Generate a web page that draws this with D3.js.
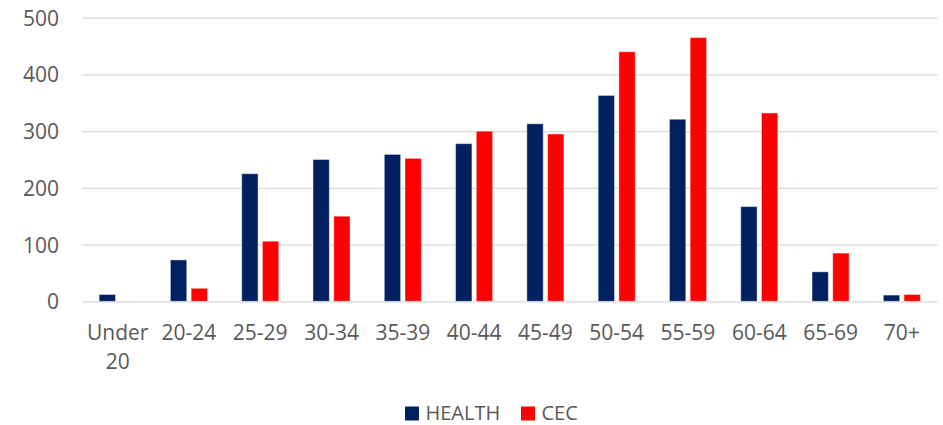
<!DOCTYPE html>
<html>
<head>
<meta charset="utf-8">
<script src="https://cdn.jsdelivr.net/npm/d3@7"></script>
<style>
  html, body { margin: 0; padding: 0; background: #ffffff; }
  svg { display: block; }
  text { font-family: "Open Sans", "Liberation Sans", sans-serif; fill: #595959; }
</style>
</head>
<body>
<svg id="chart" width="943" height="425"></svg>
<script>
// Age bands along the x axis
const categories = ["Under 20", "20-24", "25-29", "30-34", "35-39", "40-44", "45-49",
                    "50-54", "55-59", "60-64", "65-69", "70+"];
// Headcount per age band for each group
const healthValues = [12, 73, 225, 250, 259, 278, 313, 363, 321, 167, 52, 11];
const cecValues    = [0, 23, 106, 150, 252, 300, 295, 440, 465, 332, 85, 12];
const seriesNames  = ["HEALTH", "CEC"];
const seriesColors = ["#002060", "#FF0000"];
const yTicks = [0, 100, 200, 300, 400, 500];

const svg = d3.select("#chart");
const margin = { left: 82, right: 5.5, top: 17.7, bottom: 123.7 };
const W = 943, H = 425;

const x = d3.scaleBand()
  .domain(categories)
  .range([margin.left, W - margin.right])
  .paddingInner(0.48)
  .paddingOuter(0.24);

const xInner = d3.scaleBand()
  .domain(seriesNames)
  .range([0, x.bandwidth()])
  .paddingInner(0.21);

const y = d3.scaleLinear()
  .domain([0, 500])
  .range([H - margin.bottom, margin.top]);

// Horizontal gridlines
const yAxis = d3.axisLeft(y)
  .tickValues(yTicks)
  .tickSize(-(W - margin.right - margin.left))
  .tickPadding(23)
  .tickFormat(d3.format("d"));

const gy = svg.append("g")
  .attr("transform", `translate(${margin.left},0)`)
  .call(yAxis);
gy.select(".domain").remove();
gy.selectAll(".tick line").attr("stroke", "#d9d9d9").attr("stroke-width", 1.3);
gy.selectAll(".tick text")
  .attr("font-size", 21)
  .attr("fill", "#595959")
  .attr("dy", "0.36em");

// Bars
const rows = categories.map((c, i) => ({ cat: c, values: [healthValues[i], cecValues[i]] }));

const groups = svg.append("g").selectAll("g")
  .data(rows)
  .join("g")
  .attr("transform", d => `translate(${x(d.cat)},0)`);

groups.selectAll("rect")
  .data(d => d.values.map((v, k) => ({ name: seriesNames[k], value: v, color: seriesColors[k] })))
  .join("rect")
  .filter(d => d.value > 0)
  .attr("x", d => xInner(d.name))
  .attr("width", xInner.bandwidth())
  .attr("y", d => y(d.value))
  .attr("height", d => y(0) - y(d.value))
  .attr("fill", d => d.color)
  .attr("stroke", "rgba(255,255,255,0.45)")
  .attr("stroke-width", 1);

// Category labels, wrapped onto several lines where they contain spaces
const xAxis = d3.axisBottom(x).tickSize(0).tickPadding(0);
const gx = svg.append("g")
  .attr("transform", `translate(0,${y(0)})`)
  .call(xAxis);
gx.select(".domain").remove();
gx.selectAll(".tick text").each(function (d) {
  const t = d3.select(this);
  const words = d.split(" ");
  t.text(null)
    .attr("font-size", 21)
    .attr("fill", "#595959")
    .attr("y", 38.7)
    .attr("dy", 0);
  words.forEach((w, i) => {
    t.append("tspan")
      .attr("x", 0)
      .attr("dy", i === 0 ? 0 : 29)
      .text(w);
  });
});

// Legend
const legendX = [405, 521];
const legend = svg.append("g").selectAll("g")
  .data(seriesNames)
  .join("g")
  .attr("transform", (d, i) => `translate(${legendX[i]},406.5)`);
legend.append("rect")
  .attr("width", 14).attr("height", 14)
  .attr("fill", (d, i) => seriesColors[i]);
legend.append("text")
  .attr("x", 20.5).attr("y", 13.5)
  .attr("font-size", 20)
  .text(d => d);
</script>
</body>
</html>
